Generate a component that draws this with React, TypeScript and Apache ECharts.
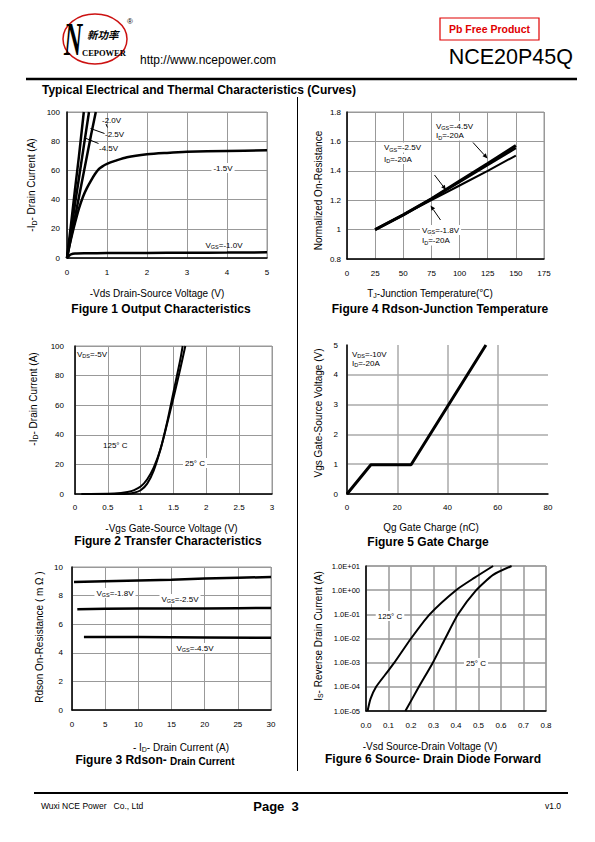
import React, { useEffect, useRef } from "react";
import * as echarts from "echarts";

const FONT = "'Liberation Sans', Arial, 'Noto Sans CJK SC', sans-serif";

// ---------- Figure 1: Output characteristics (-Vds, -Id) ----------
const fig1Vgs45 = [[0, 0], [0.1, 23], [0.2, 47], [0.3, 70], [0.42, 100]];
const fig1Vgs25 = [[0, 0], [0.1, 18], [0.2, 37], [0.3, 55], [0.4, 73], [0.55, 100]];
const fig1Vgs20 = [[0, 0], [0.1, 14], [0.2, 28], [0.3, 42], [0.4, 56], [0.5, 70], [0.6, 84], [0.72, 100]];
const fig1Vgs15 = [[0, 0], [0.05, 7], [0.1, 13], [0.2, 24], [0.3, 34], [0.4, 42], [0.5, 48], [0.6, 53], [0.7, 57.5], [0.8, 61], [0.9, 63], [1, 64.5], [1.2, 66.5], [1.5, 69], [2, 71], [2.5, 72], [3, 72.7], [4, 73.3], [5, 73.8]];
const fig1Vgs10 = [[0, 0], [0.05, 1.5], [0.1, 2.5], [0.2, 3], [0.5, 3.2], [1, 3.4], [2, 3.5], [3, 3.6], [4, 3.7], [5, 3.9]];

// ---------- Figure 2: Transfer characteristics (-Vgs, -Id) ----------
const fig2T125 = [[0.1, 0], [0.5, 0.1], [0.7, 0.6], [0.8, 1.3], [0.9, 2.6], [1.0, 5], [1.1, 10], [1.2, 18], [1.3, 30], [1.4, 47], [1.5, 65], [1.6, 84], [1.68, 100]];
const fig2T25 = [[0.1, 0], [0.7, 0], [0.8, 0.2], [0.9, 0.8], [1.0, 2.5], [1.1, 7], [1.2, 16], [1.3, 30], [1.4, 48], [1.5, 69], [1.6, 90], [1.64, 100]];

// ---------- Figure 3: Rdson vs drain current ----------
const fig3Vgs18 = [[0.3, 8.95], [5, 9.0], [10, 9.05], [15, 9.1], [20, 9.2], [25, 9.25], [30, 9.3]];
const fig3Vgs25 = [[0.8, 7.05], [5, 7.08], [10, 7.1], [15, 7.1], [20, 7.1], [25, 7.12], [30, 7.14]];
const fig3Vgs45 = [[1.8, 5.1], [5, 5.1], [10, 5.1], [20, 5.07], [30, 5.05]];

// ---------- Figure 4: Normalized Rdson vs junction temperature ----------
const fig4Vgs45 = [[25, 1.0], [50, 1.1], [75, 1.21], [100, 1.33], [125, 1.45], [150, 1.572]];
const fig4Vgs25 = [[25, 1.0], [50, 1.1], [75, 1.21], [100, 1.325], [125, 1.44], [150, 1.555]];
const fig4Vgs18 = [[25, 1.0], [50, 1.1], [75, 1.2], [100, 1.3], [125, 1.4], [150, 1.504]];

// ---------- Figure 5: Gate charge ----------
const fig5Charge = [[0, 0], [9.5, 0.98], [25.5, 0.98], [55.3, 5]];

// ---------- Figure 6: Source-drain diode forward ----------
const fig6T125 = [[0.007, 1e-5], [0.02, 3.16e-5], [0.045, 1e-4], [0.085, 3.16e-4], [0.126, 1e-3], [0.2, 1e-2], [0.283, 1e-1], [0.4, 1], [0.483, 3.3], [0.565, 10]];
const fig6T25 = [[0.175, 1e-5], [0.235, 1e-4], [0.297, 1e-3], [0.352, 1e-2], [0.409, 1e-1], [0.49, 1], [0.565, 4.3], [0.647, 10]];
const fig6YTickLabels = ["1.0E-05", "1.0E-04", "1.0E-03", "1.0E-02", "1.0E-01", "1.0E+00", "1.0E+01"];
const fig6XTickLabels = ["0.0", "0.1", "0.2", "0.3", "0.4", "0.5", "0.6", "0.7", "0.8"];

const GRID_COLOR = "#999";

function xAxis(gridIndex: number, min: number, max: number, interval: number, margin: number, extra: any = {}) {
  return {
    type: "value", gridIndex, min, max, interval,
    axisLine: { show: true, onZero: false, lineStyle: { color: "#000", width: 1.5 } },
    axisTick: { show: false },
    axisLabel: { fontSize: 8, color: "#000", fontFamily: FONT, margin },
    splitLine: { show: true, lineStyle: { color: GRID_COLOR, width: 1 } },
    ...extra,
  };
}
function yAxis(gridIndex: number, min: number, max: number, interval: number, margin: number, extra: any = {}) {
  return {
    type: "value", gridIndex, min, max, interval,
    axisLine: { show: true, onZero: false, lineStyle: { color: "#000", width: 1.5 } },
    axisTick: { show: false },
    axisLabel: { fontSize: 8, color: "#000", fontFamily: FONT, margin },
    splitLine: { show: true, lineStyle: { color: GRID_COLOR, width: 1 } },
    ...extra,
  };
}

function line(name: string, data: number[][], axis: number, width: number, smooth: any = 0.3) {
  return {
    name, type: "line", data, xAxisIndex: axis, yAxisIndex: axis,
    showSymbol: false, symbol: "none", smooth, clip: true,
    lineStyle: { color: "#000", width }, z: 3,
  };
}

function txt(x: number, y: number, text: string, o: any = {}) {
  const { size = 8, weight = "normal", align = "left", valign = "middle", fill = "#000", bg, rotation, family = FONT, rich, z = 10, scaleX, style = "normal" } = o;
  const el: any = {
    type: "text", x, y, z,
    style: {
      text, fontSize: size, fontWeight: weight, fontFamily: family, fontStyle: style,
      fill, textAlign: align, textVerticalAlign: valign,
    },
  };
  if (bg) { el.style.backgroundColor = bg; el.style.padding = [1, 2]; }
  if (rotation !== undefined) el.rotation = rotation;
  if (scaleX !== undefined) el.scaleX = scaleX;
  if (rich) el.style.rich = rich;
  return el;
}

const sub = (size: number) => ({ s: { fontSize: size, fontFamily: FONT, verticalAlign: "bottom", padding: [0, 0, -1, 0] } });

function arrow(x1: number, y1: number, x2: number, y2: number) {
  const dx = x2 - x1, dy = y2 - y1;
  const len = Math.sqrt(dx * dx + dy * dy);
  const ux = dx / len, uy = dy / len;
  const hl = 5, hw = 2.2;
  const bx = x2 - ux * hl, by = y2 - uy * hl;
  return [
    { type: "line", z: 10, shape: { x1, y1, x2: bx, y2: by }, style: { stroke: "#000", lineWidth: 1 } },
    { type: "polygon", z: 10, shape: { points: [[x2, y2], [bx - uy * hw, by + ux * hw], [bx + uy * hw, by - ux * hw]] }, style: { fill: "#000" } },
  ];
}

export default function App() {
  const ref = useRef<HTMLDivElement>(null);
  useEffect(() => {
    if (!ref.current) return;
    const chart = echarts.init(ref.current, null, { renderer: "svg", width: 595, height: 842 });
    const rot = Math.PI / 2;
    const graphic: any[] = [
      // Header logo
      { type: "ellipse", z: 10, shape: { cx: 95, cy: 39, rx: 32, ry: 25 }, style: { fill: "none", stroke: "#cc1111", lineWidth: 1.5 } },
      txt(64, 40, "N", { size: 46, weight: "bold", style: "italic", family: "'Liberation Serif', serif", scaleX: 0.55 }),
      txt(87, 34, "新功率", { size: 10.5, weight: "bold", style: "italic", family: "'Noto Sans CJK SC', sans-serif" }),
      txt(82, 53, "CEPOWER", { size: 8.5, weight: "bold", family: "'Liberation Serif', serif" }),
      txt(127, 21, "®", { size: 8 }),
      txt(140, 60, "http://www.ncepower.com", { size: 12 }),
      { type: "rect", z: 10, shape: { x: 440, y: 18, width: 99, height: 22 }, style: { fill: "none", stroke: "#e00000", lineWidth: 1.2 } },
      txt(489.5, 29, "Pb Free Product", { size: 10.5, weight: "bold", fill: "#e00000", align: "center" }),
      txt(573, 57, "NCE20P45Q", { size: 21.5, align: "right" }),
      { type: "line", z: 10, shape: { x1: 26, y1: 79, x2: 577, y2: 79 }, style: { stroke: "#000", lineWidth: 2.5 } },
      txt(42, 90, "Typical Electrical and Thermal Characteristics (Curves)", { size: 12, weight: "bold" }),
      // Divider
      { type: "line", z: 10, shape: { x1: 297.5, y1: 97, x2: 297.5, y2: 771 }, style: { stroke: "#000", lineWidth: 1 } },
      // Footer
      { type: "line", z: 10, shape: { x1: 34, y1: 793, x2: 568, y2: 793 }, style: { stroke: "#000", lineWidth: 2 } },
      txt(41, 806, "Wuxi NCE Power   Co., Ltd", { size: 8.5 }),
      txt(276, 806, "Page  3", { size: 13, weight: "bold", align: "center" }),
      txt(561, 806, "v1.0", { size: 8.5, align: "right" }),

      // Figure 1
      txt(31.5, 185, "-I{s|D}- Drain Current (A)", { size: 10, rotation: rot, align: "center", rich: sub(7) }),
      txt(157, 293, "-Vds Drain-Source Voltage (V)", { size: 10, align: "center" }),
      txt(161, 309, "Figure 1 Output Characteristics", { size: 12, weight: "bold", align: "center" }),
      txt(102, 120, "-2.0V", { size: 8 }),
      txt(105, 134, "-2.5V", { size: 8 }),
      txt(99, 148, "-4.5V", { size: 8 }),
      { type: "line", z: 10, shape: { x1: 90.5, y1: 128.5, x2: 104.5, y2: 133.5 }, style: { stroke: "#000", lineWidth: 1 } },
      { type: "line", z: 10, shape: { x1: 85, y1: 138, x2: 98.5, y2: 143.5 }, style: { stroke: "#000", lineWidth: 1 } },
      { type: "line", z: 10, shape: { x1: 106, y1: 124, x2: 107.5, y2: 127.5 }, style: { stroke: "#000", lineWidth: 1 } },
      txt(223, 168, "-1.5V", { size: 8, align: "center", bg: "#fff" }),
      txt(224, 245, "V{s|GS}=-1.0V", { size: 8, align: "center", rich: sub(5.5) }),

      // Figure 2
      txt(33, 399, "-I{s|D}- Drain Current (A)", { size: 10, rotation: rot, align: "center", rich: sub(7) }),
      txt(171.5, 528, "-Vgs Gate-Source Voltage (V)", { size: 10, align: "center" }),
      txt(168, 541, "Figure 2 Transfer Characteristics", { size: 12, weight: "bold", align: "center" }),
      txt(77, 354, "V{s|DS}=-5V", { size: 8, rich: sub(5.5) }),
      txt(103, 445, "125° C", { size: 8 }),
      txt(195, 463, "25° C", { size: 8, align: "center", bg: "#fff" }),

      // Figure 3
      txt(39, 637, "Rdson On-Resistance ( m Ω )", { size: 10, rotation: rot, align: "center" }),
      txt(181, 747, "- I{s|D}- Drain Current (A)", { size: 10, align: "center", rich: sub(7) }),
      txt(155, 760, "Figure 3 Rdson- {m|Drain Current}", { size: 12, weight: "bold", align: "center", rich: { m: { fontSize: 10, fontWeight: "bold", fontFamily: FONT, verticalAlign: "bottom" } } }),
      txt(115, 593, "V{s|GS}=-1.8V", { size: 8, align: "center", bg: "#fff", rich: sub(5.5) }),
      txt(180, 599, "V{s|GS}=-2.5V", { size: 8, align: "center", bg: "#fff", rich: sub(5.5) }),
      txt(195, 648, "V{s|GS}=-4.5V", { size: 8, align: "center", bg: "#fff", rich: sub(5.5) }),

      // Figure 4
      txt(318, 190.5, "Normalized On-Resistance", { size: 10, rotation: rot, align: "center" }),
      txt(430, 293, "T{s|J}-Junction Temperature(℃)", { size: 10, align: "center", rich: sub(7) }),
      txt(440, 309, "Figure 4 Rdson-Junction Temperature", { size: 12, weight: "bold", align: "center" }),
      txt(434, 126, "V{s|GS}=-4.5V", { size: 8, bg: "#fff", rich: sub(5.5) }),
      txt(434, 135.5, "I{s|D}=-20A", { size: 8, bg: "#fff", rich: sub(5.5) }),
      txt(382, 147.5, "V{s|GS}=-2.5V", { size: 8, bg: "#fff", rich: sub(5.5) }),
      txt(382, 159, "I{s|D}=-20A", { size: 8, bg: "#fff", rich: sub(5.5) }),
      txt(420, 230, "V{s|GS}=-1.8V", { size: 8, bg: "#fff", rich: sub(5.5) }),
      txt(420, 240.5, "I{s|D}=-20A", { size: 8, bg: "#fff", rich: sub(5.5) }),
      ...arrow(473, 142.5, 487.5, 158.5),
      ...arrow(434.5, 175, 446, 190),
      ...arrow(440.5, 220, 430.5, 205.5),

      // Figure 5
      txt(318.3, 413, "Vgs Gate-Source Voltage (V)", { size: 10, rotation: rot, align: "center" }),
      txt(431, 527, "Qg Gate Charge (nC)", { size: 10, align: "center" }),
      txt(428, 542, "Figure 5 Gate Charge", { size: 12, weight: "bold", align: "center" }),
      txt(352, 354, "V{s|DS}=-10V", { size: 8, rich: sub(5.5) }),
      txt(352, 363, "I{s|D}=-20A", { size: 8, rich: sub(5.5) }),

      // Figure 6
      txt(318.3, 636, "I{s|S}- Reverse Drain Current (A)", { size: 10, rotation: rot, align: "center", rich: sub(7) }),
      txt(430, 746, "-Vsd Source-Drain Voltage (V)", { size: 10, align: "center" }),
      txt(433, 759, "Figure 6 Source- Drain Diode Forward", { size: 12, weight: "bold", align: "center" }),
      txt(390, 616, "125° C", { size: 8, align: "center", bg: "#fff" }),
      txt(476, 663, "25° C", { size: 8, align: "center", bg: "#fff" }),
    ];

    const gridBase = { show: true, borderColor: GRID_COLOR, borderWidth: 1, backgroundColor: "transparent", containLabel: false };
    const option: any = {
      animation: false,
      backgroundColor: "#fff",
      grid: [
        { ...gridBase, left: 67, top: 112, width: 200, height: 146 },
        { ...gridBase, left: 75, top: 346, width: 197, height: 148 },
        { ...gridBase, left: 72, top: 567, width: 199, height: 143 },
        { ...gridBase, left: 347, top: 112, width: 197, height: 147 },
        { left: 347, top: 345, width: 201, height: 149, show: false },
        { ...gridBase, left: 366, top: 566, width: 180, height: 145 },
      ],
      xAxis: [
        xAxis(0, 0, 5, 1, 10),
        xAxis(1, 0, 3, 0.5, 9),
        xAxis(2, 0, 30, 5, 10),
        xAxis(3, 0, 175, 25, 10),
        xAxis(4, 0, 80, 20, 9, { splitLine: { show: true, showMaxLine: false, lineStyle: { color: "#aaa", width: 1.5 } } }),
        xAxis(5, 0, 0.8, 0.1, 10, {
          axisLabel: { fontSize: 8, color: "#000", fontFamily: FONT, margin: 10, formatter: (v: number) => fig6XTickLabels[Math.round(v * 10)] },
          splitLine: { show: true, lineStyle: { color: "#999", width: 1.5 } },
        }),
      ],
      yAxis: [
        yAxis(0, 0, 100, 20, 7),
        yAxis(1, 0, 100, 20, 11),
        yAxis(2, 0, 10, 2, 9),
        yAxis(3, 0.8, 1.8, 0.2, 6),
        yAxis(4, 0, 5, 1, 9, { splitLine: { show: true, showMaxLine: false, lineStyle: { color: "#aaa", width: 1.5 } } }),
        {
          type: "log", logBase: 10, gridIndex: 5, min: 1e-5, max: 10,
          axisLine: { show: true, onZero: false, lineStyle: { color: "#000", width: 1.5 } },
          axisTick: { show: false },
          axisLabel: { fontSize: 7.5, color: "#000", fontFamily: FONT, margin: 6, formatter: (v: number) => fig6YTickLabels[Math.round(Math.log10(v)) + 5] },
          splitLine: { show: true, lineStyle: { color: "#999", width: 1.5 } },
        },
      ],
      series: [
        line("-4.5V", fig1Vgs45, 0, 2.5, false),
        line("-2.5V", fig1Vgs25, 0, 2.5, false),
        line("-2.0V", fig1Vgs20, 0, 2.5, false),
        line("-1.5V", fig1Vgs15, 0, 2.5),
        line("-1.0V", fig1Vgs10, 0, 2.5),
        line("125C", fig2T125, 1, 2),
        line("25C", fig2T25, 1, 2),
        line("VGS=-1.8V", fig3Vgs18, 2, 2.5, false),
        line("VGS=-2.5V", fig3Vgs25, 2, 2.5, false),
        line("VGS=-4.5V", fig3Vgs45, 2, 2.5, false),
        line("VGS=-4.5V T", fig4Vgs45, 3, 3, false),
        line("VGS=-2.5V T", fig4Vgs25, 3, 2.5, false),
        line("VGS=-1.8V T", fig4Vgs18, 3, 2, false),
        line("Gate", fig5Charge, 4, 3, false),
        line("125C D", fig6T125, 5, 2, 0.2),
        line("25C D", fig6T25, 5, 2, 0.2),
      ],
      graphic: { elements: graphic },
    };
    chart.setOption(option);
    return () => chart.dispose();
  }, []);
  return <div ref={ref} style={{ position: "absolute", left: 0, top: 0, width: 595, height: 842, background: "#fff" }} />;
}
